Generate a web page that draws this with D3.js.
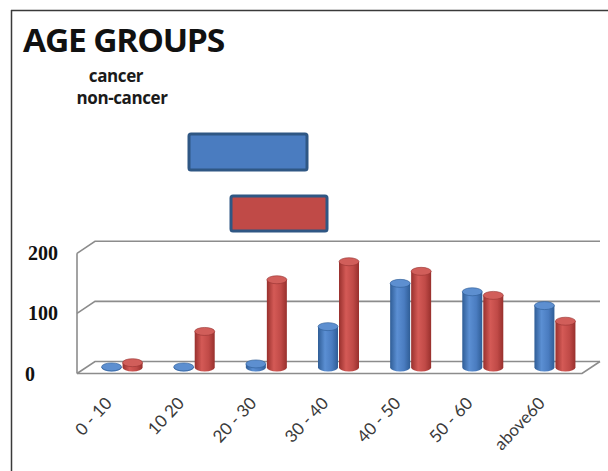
<!DOCTYPE html>
<html>
<head>
<meta charset="utf-8">
<script src="https://cdn.jsdelivr.net/npm/d3@7"></script>
<style>
  html, body { margin: 0; padding: 0; background: #fff; }
  svg { display: block; }
</style>
</head>
<body>
<svg id="chart" width="608" height="471"></svg>
<script>
// Age-group counts for the two patient groups
const categories = ["0 - 10", "10 20", "20 - 30", "30 - 40", "40 - 50", "50 - 60", "above60"];
const cancer = [1, 1, 6, 68, 140, 126, 103];
const nonCancer = [8, 60, 146, 176, 160, 120, 77];
const seriesNames = ["cancer", "non-cancer"];
const yTicks = [0, 100, 200];

const svg = d3.select("#chart");

// frame lines (top and left edges of the chart area)
svg.append("line").attr("x1", 11).attr("y1", 10.5).attr("x2", 608).attr("y2", 10.5)
  .attr("stroke", "#3a3a3a").attr("stroke-width", 1.5);
svg.append("line").attr("x1", 11.5).attr("y1", 10).attr("x2", 11.5).attr("y2", 471)
  .attr("stroke", "#3a3a3a").attr("stroke-width", 1.5);

// 3D geometry: front plane scales and the depth offset of the back wall
const x = d3.scaleBand().domain(categories).range([77, 582]);
const y = d3.scaleLinear().domain([0, 200]).range([373.5, 253.3]);
const depth = { dx: 18, dy: -12 };
const mid = { dx: depth.dx / 2, dy: depth.dy / 2 };

const grid = svg.append("g").attr("stroke", "#8c8c8c").attr("stroke-width", 1.6).attr("fill", "none");
const [x0, x1] = x.range();
yTicks.forEach(t => {
  const yf = y(t), yb = y(t) + depth.dy;
  // back wall line + left wall diagonal
  grid.append("path").attr("d", `M${x0},${yf}L${x0 + depth.dx},${yb}L${x1 + depth.dx},${yb}`);
});
// floor front edge and right edge
grid.append("path").attr("d",
  `M${x0},${y(0)}L${x1},${y(0)}L${x1 + depth.dx},${y(0) + depth.dy}`);
// left wall front edge
grid.append("path").attr("d", `M${x0},${y(0)}L${x0},${y(200)}`);

// y tick labels
svg.append("g").selectAll("text").data(yTicks).join("text")
  .attr("x", d => d === 0 ? 25 : 58)
  .attr("y", d => y(d) + 7)
  .attr("text-anchor", d => d === 0 ? "start" : "end")
  .attr("font-family", "Liberation Serif, serif")
  .attr("font-weight", "bold")
  .attr("font-size", 20)
  .attr("fill", "#111")
  .text(d => d);

// cylinder gradients
const defs = svg.append("defs");
function cylGrad(id, dark, base, light) {
  const g = defs.append("linearGradient").attr("id", id).attr("x1", "0").attr("x2", "1").attr("y1", "0").attr("y2", "0");
  g.append("stop").attr("offset", "0%").attr("stop-color", dark);
  g.append("stop").attr("offset", "35%").attr("stop-color", light);
  g.append("stop").attr("offset", "70%").attr("stop-color", base);
  g.append("stop").attr("offset", "100%").attr("stop-color", dark);
}
cylGrad("gBlue", "#2f5d96", "#4a7cc0", "#5b8fd3");
cylGrad("gRed", "#98302d", "#c04a47", "#d45a56");

const series = [
  { name: seriesNames[0], values: cancer, grad: "url(#gBlue)", top: "#5d8fd0", edge: "#2c5a94", off: -10.5 },
  { name: seriesNames[1], values: nonCancer, grad: "url(#gRed)", top: "#d15e5a", edge: "#963331", off: 10.5 }
];

const rx = 10, ry = 4;
const bars = svg.append("g");
series.forEach(s => {
  s.values.forEach((v, i) => {
    const cx = x(categories[i]) + x.bandwidth() / 2 + mid.dx + s.off;
    const yb = y(0) + mid.dy;
    const yt = y(v) + mid.dy;
    const g = bars.append("g");
    // body with rounded bottom
    g.append("path")
      .attr("d", `M${cx - rx},${yt}L${cx - rx},${yb}A${rx},${ry} 0 0 0 ${cx + rx},${yb}L${cx + rx},${yt}Z`)
      .attr("fill", s.grad);
    // top cap
    g.append("ellipse").attr("cx", cx).attr("cy", yt).attr("rx", rx).attr("ry", ry)
      .attr("fill", s.top).attr("stroke", s.edge).attr("stroke-width", 0.6);
  });
});

// category labels, rotated under the floor
svg.append("g").selectAll("text").data(categories).join("text")
  .attr("transform", d => `translate(${x(d) + x.bandwidth() / 2},${404}) rotate(-47)`)
  .attr("text-anchor", "end")
  .attr("font-family", "Lato, sans-serif")
  .attr("font-size", 17)
  .attr("fill", "#3a3a3a")
  .text(d => d);

// title
svg.append("text").attr("x", 23).attr("y", 52)
  .attr("font-family", "Open Sans, sans-serif").attr("font-weight", "bold")
  .attr("font-size", 33).attr("letter-spacing", -1.2).attr("fill", "#111")
  .attr("textLength", 201).attr("lengthAdjust", "spacingAndGlyphs")
  .text("AGE GROUPS");

// legend
const legendText = svg.append("g")
  .attr("font-family", "Open Sans, sans-serif").attr("font-weight", "bold")
  .attr("font-size", 17).attr("fill", "#1a1a1a").attr("text-anchor", "middle");
legendText.append("text").attr("x", 116).attr("y", 82).attr("letter-spacing", -0.4).text(seriesNames[0]);
legendText.append("text").attr("x", 122).attr("y", 104).attr("letter-spacing", -0.4).text(seriesNames[1]);

const legendBoxes = [
  { x: 189, y: 134, w: 118, h: 36, fill: "#4a7cc0" },
  { x: 231, y: 196, w: 96, h: 35, fill: "#c04a47" }
];
svg.append("g").selectAll("rect").data(legendBoxes).join("rect")
  .attr("x", d => d.x).attr("y", d => d.y).attr("width", d => d.w).attr("height", d => d.h)
  .attr("rx", 2).attr("fill", d => d.fill)
  .attr("stroke", "#2f5784").attr("stroke-width", 3);
</script>
</body>
</html>
